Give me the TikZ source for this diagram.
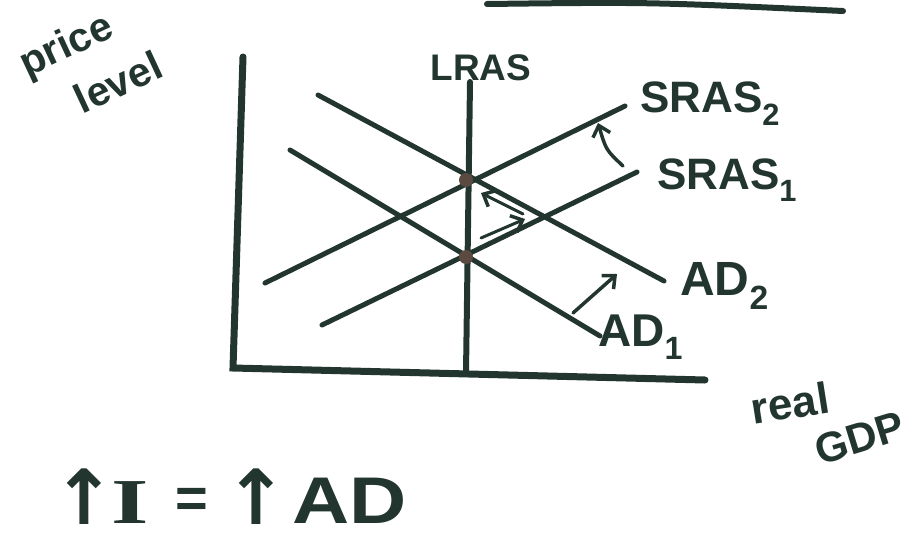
\documentclass[tikz,border=0pt]{standalone}
\usepackage{fontspec}
\setmainfont{Liberation Sans}
\newfontfamily\symfont{DejaVu Sans}
\newfontfamily\serifI{Liberation Serif}
\usetikzlibrary{arrows.meta}
\definecolor{ink}{HTML}{22362F}
\definecolor{dotc}{HTML}{5A4A40}
\tikzset{
  axis/.style={draw=ink, line width=7pt, line cap=round},
  curve/.style={draw=ink, line width=5pt, line cap=round},
  shiftarrow/.style={draw=ink, line width=3.5pt, line cap=round, -{Straight Barb[length=10pt,width=18pt,line width=3.5pt]}},
  lbl/.style={text=ink, font=\fontsize{44}{44}\selectfont\bfseries, inner sep=0pt},
  eqlbl/.style={text=ink, inner sep=0pt, anchor=base, text depth=0pt},
  eq/.style={fill=dotc, circle, inner sep=0pt, minimum size=14pt},
}
\begin{document}
\begin{tikzpicture}[x=1pt,y=-1pt]
\useasboundingbox (0,0) rectangle (913,533);
% stray stroke at top
\coordinate (t1) at (487,4);
\coordinate (t2) at (843,11);
\draw[axis, line width=6pt] (t1) .. controls (650,2) .. (t2);
% axes
\coordinate (ytop) at (243,57);
\coordinate (origin) at (233,368);
\coordinate (xend) at (705,380);
\draw[axis] (ytop) -- (origin) -- (xend);
% LRAS
\coordinate (lrasT) at (470,82);
\coordinate (lrasB) at (466,373);
\draw[axis, line width=6pt] (lrasT) -- (lrasB);
% SRAS2
\coordinate (s2a) at (265,283);
\coordinate (s2b) at (625,106);
\draw[curve] (s2a) -- (s2b);
% SRAS1
\coordinate (s1a) at (322,325);
\coordinate (s1b) at (637,172);
\draw[curve] (s1a) -- (s1b);
% AD2
\coordinate (d2a) at (318,95);
\coordinate (d2b) at (664,281);
\draw[curve] (d2a) -- (d2b);
% AD1
\coordinate (d1a) at (290,150);
\coordinate (d1b) at (600,336);
\draw[curve] (d1a) -- (d1b);
% equilibrium points
\node[eq] (e2) at (466,180) {};
\node[eq] (e1) at (466,257) {};
% shift arrows
\coordinate (sa1) at (623,166);
\coordinate (sa2) at (598,123);
\draw[shiftarrow] (sa1) .. controls (606,150) .. (sa2);
\coordinate (da1) at (573,313);
\coordinate (da2) at (617,274);
\draw[shiftarrow] (da1) -- (da2);
\coordinate (ma1) at (523,214);
\coordinate (ma2) at (481,193);
\draw[shiftarrow, line width=3pt] (ma1) -- (ma2);
\coordinate (mb1) at (481,238);
\coordinate (mb2) at (525,219);
\draw[shiftarrow, line width=3pt] (mb1) -- (mb2);
% labels
\node[lbl, font=\fontsize{37}{37}\selectfont\bfseries] (lLRAS) at (481,68) {LRAS};
\node[lbl, anchor=west] (lS2) at (640,104) {SRAS\textsubscript{2}};
\node[lbl, anchor=west] (lS1) at (657,180) {SRAS\textsubscript{1}};
\node[lbl, anchor=west, font=\fontsize{48}{48}\selectfont\bfseries] (lD2) at (680,286) {AD\textsubscript{2}};
\node[lbl, anchor=west, font=\fontsize{46}{46}\selectfont\bfseries] (lD1) at (598,337) {AD\textsubscript{1}};
\node[lbl, rotate=25, font=\fontsize{41}{41}\selectfont\bfseries] (lprice) at (67,47) {price};
\node[lbl, rotate=25, font=\fontsize{41}{41}\selectfont\bfseries] (llevel) at (118,82) {level};
\node[lbl, rotate=9, font=\fontsize{44}{44}\selectfont\bfseries] (lreal) at (790,403) {real};
\node[lbl, rotate=17, font=\fontsize{42}{42}\selectfont\bfseries] (lgdp) at (860,438) {GDP};
% equation
\node[eqlbl, font=\fontsize{76}{76}\selectfont\symfont\bfseries] (up1) at (84,524) {↑};
\node[eqlbl, font=\fontsize{64}{64}\selectfont\serifI\bfseries, xscale=1.5] (capI) at (130,523) {I};
\node[eqlbl, font=\fontsize{56}{56}\selectfont\bfseries] (eqs) at (192,517) {=};
\node[eqlbl, font=\fontsize{76}{76}\selectfont\symfont\bfseries] (up2) at (256,524) {↑};
\node[eqlbl, font=\fontsize{66}{66}\selectfont\bfseries, xscale=1.2] (lAD) at (350,523) {AD};
\end{tikzpicture}
\end{document}
